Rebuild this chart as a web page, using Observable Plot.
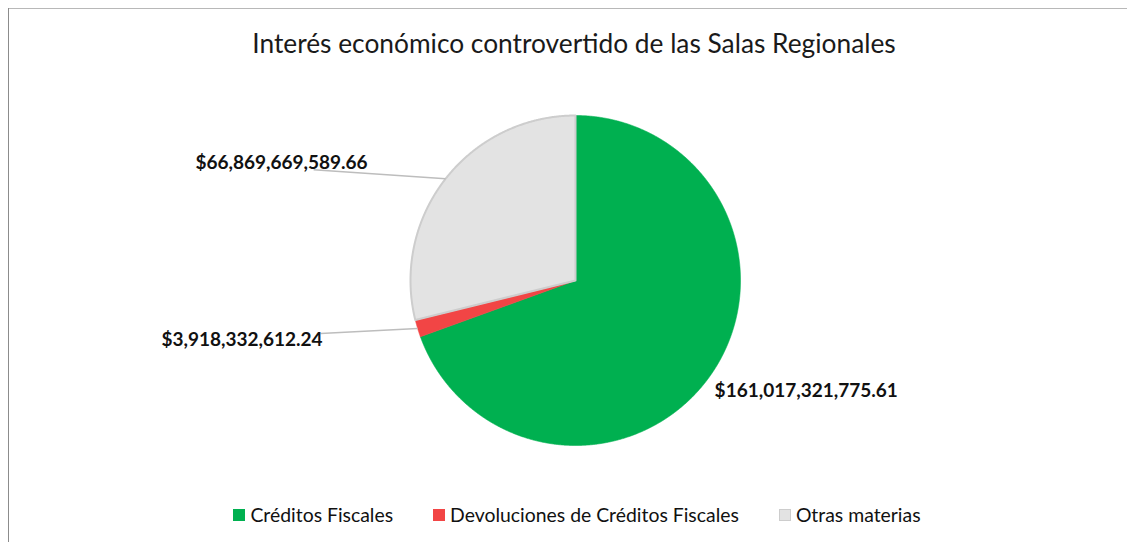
<!DOCTYPE html>
<html>
<head>
<meta charset="utf-8">
<script src="https://cdn.jsdelivr.net/npm/d3@7"></script>
<script src="https://cdn.jsdelivr.net/npm/@observablehq/plot@0.6"></script>
<style>
  html, body { margin: 0; padding: 0; background: #fff; }
  #wrap { position: relative; width: 1127px; height: 542px; overflow: hidden; font-family: Lato, "Noto Sans", sans-serif; }
  #wrap svg { position: absolute; left: 0; top: 0; }
  #frameTop { position: absolute; left: 8px; top: 8px; width: 1119px; height: 0; border-top: 1.5px solid #b8b8b8; }
  #frameLeft { position: absolute; left: 8px; top: 8px; width: 0; height: 534px; border-left: 1.5px solid #8c8c8c; }
  #title { position: absolute; left: 0; width: 1148px; top: 27px; text-align: center; font-size: 26.3px; color: #1a1a1a; white-space: nowrap; }
  #legend { position: absolute; left: 0; width: 1154px; top: 503px; display: flex; justify-content: center; font-size: 19.4px; color: #111; white-space: nowrap; }
  .item { display: flex; align-items: center; margin: 0 20px; }
  .sw { width: 12px; height: 12px; margin-right: 5px; box-sizing: border-box; }
</style>
</head>
<body>
<div id="wrap">
  <div id="frameTop"></div>
  <div id="frameLeft"></div>
  <div id="title"></div>
  <div id="legend"></div>
</div>
<script>
const titleText = "Interés económico controvertido de las Salas Regionales";
const categories = ["Créditos Fiscales", "Devoluciones de Créditos Fiscales", "Otras materias"];
const values = [161017321775.61, 3918332612.24, 66869669589.66];
const colors = ["#00B050", "#F24545", "#E3E3E3"];

// layout (pixel offsets) for the data labels, per slice
const labelLayout = [
  {anchor: "start", leader: false, ldx: 0, ldy: 0, tdx: 4, tdy: 16},
  {anchor: "end", leader: true, ldx: -97, ldy: 5, tdx: 2, tdy: 6},
  {anchor: "end", leader: true, ldx: -132, ldy: -9, tdx: 54, tdy: -7}
];
const R = 165; // pixel radius, used to convert pixel offsets to data units

const rows = categories.map((c, i) => ({cat: c, value: values[i]}));
const arcs = d3.pie().sort(null).value(d => d.value)(rows);

// polygon points for each slice (data units, radius 1, clockwise from 12 o'clock)
const pts = [];
arcs.forEach(a => {
  pts.push({cat: a.data.cat, x: 0, y: 0});
  const n = Math.max(2, Math.ceil((a.endAngle - a.startAngle) / (Math.PI / 720)));
  for (let k = 0; k <= n; k++) {
    const t = a.startAngle + (a.endAngle - a.startAngle) * k / n;
    pts.push({cat: a.data.cat, x: Math.sin(t), y: Math.cos(t)});
  }
  pts.push({cat: a.data.cat, x: 0, y: 0});
});

const fmt = v => "$" + d3.format(",.2f")(v);
const labelRows = arcs.map((a, i) => {
  const m = (a.startAngle + a.endAngle) / 2;
  const L = labelLayout[i];
  const ex = Math.sin(m), ey = Math.cos(m);
  return {
    cat: a.data.cat, text: fmt(a.data.value),
    ex, ey,
    lx: ex + L.ldx / R, ly: ey - L.ldy / R,
    anchor: L.anchor, leader: L.leader, tdx: L.tdx, tdy: L.tdy
  };
});

const plot = Plot.plot({
  width: 1127, height: 542,
  marginLeft: 410, marginRight: 387, marginTop: 115, marginBottom: 97,
  x: {domain: [-1, 1], axis: null},
  y: {domain: [-1, 1], axis: null},
  color: {domain: categories, range: colors},
  style: {fontFamily: "Lato, 'Noto Sans', sans-serif", background: "transparent"},
  marks: [
    Plot.line(pts, {x: "x", y: "y", z: "cat", fill: "cat", stroke: "cat", strokeWidth: 0.6}),
    Plot.line(pts.filter(d => d.cat === categories[2]), {x: "x", y: "y", stroke: "#cdcdcd", strokeWidth: 2, strokeLinejoin: "round"}),
    Plot.link(labelRows.filter(d => d.leader), {x1: "ex", y1: "ey", x2: "lx", y2: "ly", stroke: "#bdbdbd", strokeWidth: 1.4}),
    ...labelRows.map(r => Plot.text([r], {
      x: "lx", y: "ly", text: "text", textAnchor: r.anchor, dx: r.tdx, dy: r.tdy,
      fontWeight: "bold", fontSize: 19, fill: "#111"
    }))
  ]
});
document.getElementById("wrap").appendChild(plot);

document.getElementById("title").textContent = titleText;
const leg = document.getElementById("legend");
categories.forEach((c, i) => {
  const it = document.createElement("div");
  it.className = "item";
  const sw = document.createElement("div");
  sw.className = "sw";
  sw.style.background = colors[i];
  if (i === 2) sw.style.border = "1px solid #cdcdcd";
  const tx = document.createElement("span");
  tx.textContent = c;
  it.appendChild(sw); it.appendChild(tx);
  leg.appendChild(it);
});
</script>
</body>
</html>
